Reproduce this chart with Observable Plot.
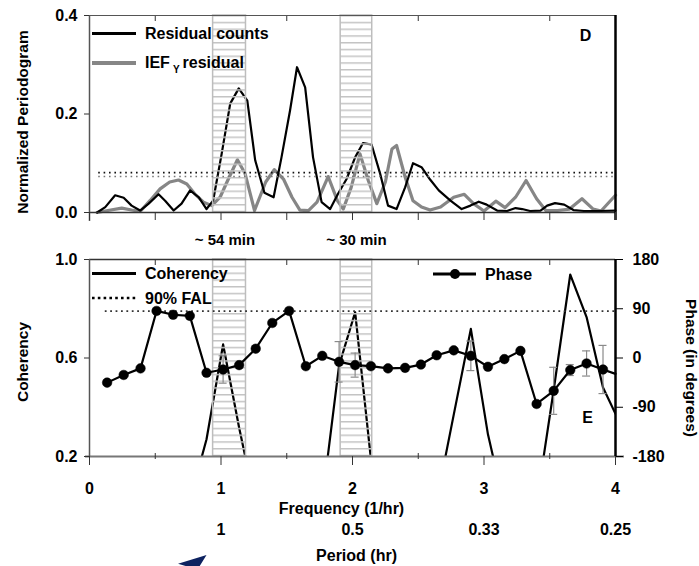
<!DOCTYPE html>
<html><head><meta charset="utf-8">
<script src="https://cdn.jsdelivr.net/npm/d3@7"></script>
<script src="https://cdn.jsdelivr.net/npm/@observablehq/plot@0.6"></script>
<style>
html,body{margin:0;padding:0;background:#fff;}
#wrap{position:relative;width:699px;height:566px;overflow:hidden;}
#wrap svg{display:block;}
</style></head><body><div id="wrap"></div>
<script>
// ---------- DATA ----------
// Panel D: normalized periodogram
const resFreq = [0.058,0.12,0.195,0.26,0.32,0.385,0.45,0.525,0.575,0.64,0.70,0.765,0.83,0.89,0.94,1.005,1.07,1.135,1.20,1.26,1.33,1.40,1.46,1.525,1.578,1.64,1.70,1.765,1.83,1.89,1.955,2.02,2.08,2.145,2.21,2.27,2.335,2.40,2.46,2.525,2.59,2.656,2.745,2.83,2.897,2.96,3.02,3.10,3.175,3.24,3.29,3.35,3.43,3.48,3.54,3.61,3.68,3.76,3.88,4.0];
const resVal  = [0.000,0.011,0.035,0.030,0.014,0.004,0.018,0.037,0.024,0.004,0.018,0.045,0.031,0.007,0.024,0.119,0.221,0.252,0.227,0.106,0.040,0.031,0.112,0.207,0.295,0.254,0.112,0.021,0.007,0.038,0.068,0.112,0.141,0.138,0.079,0.014,0.007,0.051,0.100,0.092,0.067,0.045,0.024,0.007,0.014,0.022,0.016,0.004,0.003,0.009,0.007,0.003,0.004,0.014,0.019,0.016,0.005,0.003,0.003,0.004];
const iefFreq = [0.058,0.14,0.245,0.32,0.385,0.46,0.537,0.61,0.677,0.74,0.80,0.867,0.93,0.993,1.056,1.125,1.183,1.255,1.34,1.405,1.475,1.54,1.60,1.665,1.73,1.815,1.885,1.93,1.99,2.057,2.12,2.185,2.25,2.30,2.335,2.40,2.46,2.525,2.59,2.67,2.77,2.85,2.92,3.0,3.09,3.16,3.24,3.32,3.40,3.47,3.56,3.65,3.745,3.83,3.89,4.0];
const iefVal  = [0.000,0.004,0.009,0.005,0.002,0.024,0.048,0.062,0.066,0.058,0.038,0.021,0.014,0.031,0.068,0.107,0.079,0.004,0.062,0.087,0.068,0.031,0.005,0.004,0.021,0.073,0.024,0.007,0.051,0.119,0.065,0.018,0.062,0.129,0.136,0.072,0.024,0.011,0.005,0.011,0.031,0.037,0.018,0.003,0.023,0.010,0.031,0.065,0.028,0.004,0.004,0.007,0.028,0.007,0.003,0.035];
const falLevels = [0.081, 0.073];      // false-alarm levels (counts, IEF)
const falStart = 0.07, falEnd = 4.0;

// shaded bands (frequency ranges)
const bandLo = [0.94, 1.91];
const bandHi = [1.19, 2.15];
const bandLabels = ["~ 54 min", "~ 30 min"];
const bandLabelFreq = [1.03, 2.03];

// Panel E: coherency and phase
const bottomFreq = [0.134,0.26,0.388,0.51,0.636,0.763,0.89,1.016,1.138,1.264,1.39,1.518,1.645,1.77,1.898,2.02,2.14,2.27,2.40,2.52,2.64,2.77,2.90,3.03,3.155,3.277,3.40,3.53,3.656,3.78,3.905,4.0];
const cohVal   = [0.10,0.08,0.12,0.06,0.10,0.02,0.27,0.655,0.317,0.0,0.08,0.10,0.06,0.02,0.57,0.786,0.19,0.05,0.08,0.06,0.02,0.37,0.718,0.29,0.0,0.07,0.01,0.47,0.939,0.766,0.48,0.373];
const phaseDeg = [-45,-31,-19,86,79,77,-27,-21,-13,17,64,86,-15,4,-7,-13,-15,-19,-18,-12,5,14,4,-16,-2,13,-84,-60,-22,-10,-21,-29];
const phaseErr = [0,0,0,0,0,0,0,25,0,0,0,0,0,0,37,22,0,0,0,0,0,0,27,0,0,0,0,43,10,23,44,0];
const phaseHasDot = bottomFreq.map(f => f < 4);
const cohFal = 0.79, cohFalStart = 0.12;

// ticks
const xHalf = [0,0.5,1,1.5,2,2.5,3,3.5,4];
const xMajor = [0,1,2,3,4];
const xMinor = [0.5,1.5,2.5,3.5];
const topYTicks = [0, 0.2, 0.4];
const cohTicks = [0.2, 0.6, 1.0];
const phaseTicks = [180, 90, 0, -90, -180];
const periodLabels = ["1", "0.5", "0.33", "0.25"];
const periodFreq = [1, 2, 3, 4];

// ---------- HELPERS ----------
const FONT = '"Liberation Sans", Arial, Helvetica, sans-serif';
const W = 699;
const ML = 89, MR = 84;
const FS = 16;
// phase (-180..180) mapped onto coherency axis (0.2..1.0)
const ph2c = p => 0.6 + p * 0.4 / 180;
const c2ph = c => Math.round((c - 0.6) * 450);

const resRows = resFreq.map((f, i) => ({f, v: resVal[i]}));
const iefRows = iefFreq.map((f, i) => ({f, v: iefVal[i]}));
const bandRows = bandLo.map((lo, i) => ({lo, hi: bandHi[i]}));
const falRows = falLevels.map(v => ({v, a: falStart, b: falEnd}));
const bandLabelRows = bandLabels.map((t, i) => ({t, f: bandLabelFreq[i]}));
const botRows = bottomFreq.map((f, i) => ({f, c: cohVal[i], p: phaseDeg[i], e: phaseErr[i], dot: phaseHasDot[i]}));
const errRows = botRows.filter(d => d.e > 0);
const periodRows = periodLabels.map((t, i) => ({t, f: periodFreq[i]}));

const baseStyle = {fontFamily: FONT, fontSize: FS + "px", fontWeight: "bold", background: "transparent", color: "#000", overflow: "visible"};

function addHatch(svg, id, y0) {
  const p = d3.select(svg).insert("defs", ":first-child").append("pattern")
    .attr("id", id).attr("patternUnits", "userSpaceOnUse")
    .attr("x", 0).attr("y", y0).attr("width", 10).attr("height", 6.75);
  p.append("rect").attr("x", 0).attr("y", 0).attr("width", 10).attr("height", 1.5).attr("fill", "#c4c4c4");
}

// arrowhead symbol (like a filled "➤", pointing right before rotation)
const arrowHead = {
  draw(ctx, size) {
    const r = Math.sqrt(size / Math.PI);
    ctx.moveTo(r, 0);
    ctx.lineTo(-r, -0.75 * r);
    ctx.lineTo(-0.45 * r, 0);
    ctx.lineTo(-r, 0.75 * r);
    ctx.closePath();
  }
};

// ---------- TOP PANEL (D) ----------
const topPlot = Plot.plot({
  width: W, height: 250,
  marginLeft: ML, marginRight: MR, marginTop: 15, marginBottom: 38,
  x: {domain: [0, 4], label: null},
  y: {domain: [0, 0.4], label: null},
  style: baseStyle,
  marks: [
    Plot.line(iefRows, {x: "f", y: "v", stroke: "#868686", strokeWidth: 3.2}),
    Plot.line(resRows, {x: "f", y: "v", stroke: "#000", strokeWidth: 2.2}),
    Plot.rect(bandRows, {x1: "lo", x2: "hi", fill: "url(#hatchTop)", stroke: "#bdbdbd", strokeWidth: 1.5}),
    Plot.ruleY(falRows.slice(0, 1), {y: "v", x1: "a", x2: "b", stroke: "#111", strokeWidth: 1.6, strokeDasharray: "1.6,3.8"}),
    Plot.ruleY(falRows.slice(1), {y: "v", x1: "a", x2: "b", stroke: "#777", strokeWidth: 1.6, strokeDasharray: "1.6,3.8"}),
    Plot.ruleY([0], {stroke: "#333", strokeWidth: 1.5}),
    Plot.ruleY([0.4], {stroke: "#555", strokeWidth: 1.2}),
    Plot.ruleX([0], {stroke: "#555", strokeWidth: 1.5, insetBottom: -9}),
    Plot.ruleX([4], {stroke: "#000", strokeWidth: 2.5, insetBottom: -8}),
    Plot.axisX({ticks: xHalf, tickSize: 8, tickFormat: () => "", label: null, stroke: "#333"}),
    Plot.axisX({anchor: "top", ticks: xMinor, tickSize: 5, dy: 5, tickFormat: () => "", label: null, stroke: "#333"}),
    Plot.axisY({ticks: topYTicks, tickSize: 5, tickPadding: 7, tickFormat: d => d.toFixed(1), label: null, stroke: "#333", fontSize: FS}),
    Plot.text(["Normalized Periodogram"], {text: d => d, frameAnchor: "left", dx: -66, dy: 8, rotate: -90, textAnchor: "middle", lineAnchor: "middle", fontSize: 15.5}),
    Plot.text(bandLabelRows, {x: "f", text: "t", frameAnchor: "bottom", dy: 28, textAnchor: "middle", lineAnchor: "middle", fontSize: 15}),
    Plot.text(["D"], {text: d => d, frameAnchor: "top-right", dx: -30, dy: 20, textAnchor: "middle", lineAnchor: "middle", fontSize: 16})
  ]
});
addHatch(topPlot, "hatchTop", 15);
{
  const g = d3.select(topPlot).append("g").attr("font-family", FONT).attr("font-weight", "bold").attr("font-size", 16).attr("text-anchor", "start");
  g.append("line").attr("x1", 92).attr("x2", 136).attr("y1", 33.5).attr("y2", 33.5).attr("stroke", "#000").attr("stroke-width", 3);
  g.append("text").attr("x", 145).attr("y", 33.5).attr("dy", "0.36em").attr("text-anchor", "start").text("Residual counts");
  g.append("line").attr("x1", 92).attr("x2", 136).attr("y1", 63).attr("y2", 63).attr("stroke", "#868686").attr("stroke-width", 4);
  const t = g.append("text").attr("x", 145).attr("y", 62).attr("dy", "0.36em").attr("text-anchor", "start");
  t.append("tspan").text("IEF");
  t.append("tspan").attr("font-size", 10).attr("dx", 3).attr("dy", 5).text("Y");
  t.append("tspan").attr("dx", 3).attr("dy", -5).text("residual");
}

// ---------- BOTTOM PANEL (E) ----------
const botPlot = Plot.plot({
  width: W, height: 316,
  marginLeft: ML, marginRight: MR, marginTop: 9, marginBottom: 110,
  x: {domain: [0, 4], label: null},
  y: {domain: [0.2, 1.0], label: null},
  style: baseStyle,
  marks: [
    Plot.line(botRows, {x: "f", y: "c", stroke: "#000", strokeWidth: 2.2, clip: true}),
    Plot.rect(bandRows, {x1: "lo", x2: "hi", fill: "url(#hatchBot)", stroke: "#bdbdbd", strokeWidth: 1.5}),
    Plot.ruleY([{v: cohFal, a: cohFalStart, b: 4}], {y: "v", x1: "a", x2: "b", stroke: "#333", strokeWidth: 1.8, strokeDasharray: "1.8,3.6"}),
    Plot.ruleX(errRows, {x: "f", y1: d => ph2c(d.p - d.e), y2: d => ph2c(d.p + d.e), stroke: "#8a8a8a", strokeWidth: 1.2}),
    Plot.ruleY(errRows, {y: d => ph2c(d.p + d.e), x1: "f", x2: "f", insetLeft: -4, insetRight: -4, stroke: "#8a8a8a", strokeWidth: 1.2}),
    Plot.ruleY(errRows, {y: d => ph2c(d.p - d.e), x1: "f", x2: "f", insetLeft: -4, insetRight: -4, stroke: "#8a8a8a", strokeWidth: 1.2}),
    Plot.line(botRows, {x: "f", y: d => ph2c(d.p), stroke: "#000", strokeWidth: 2.2}),
    Plot.dot(botRows.filter(d => d.dot), {x: "f", y: d => ph2c(d.p), r: 4.8, fill: "#000", stroke: "#000", strokeWidth: 0.5}),
    Plot.ruleY([1.0], {stroke: "#333", strokeWidth: 1.5}),
    Plot.ruleY([0.2], {stroke: "#777", strokeWidth: 2.2, insetLeft: -4, insetRight: -9}),
    Plot.ruleX([0], {stroke: "#555", strokeWidth: 1.5}),
    Plot.ruleX([4], {stroke: "#000", strokeWidth: 2.5}),
    Plot.axisX({ticks: xMajor, tickSize: 9, tickPadding: 17, tickFormat: d => String(d), label: null, stroke: "#333", fontSize: FS}),
    Plot.axisX({ticks: xMinor, tickSize: 6, dy: -3, tickFormat: () => "", label: null, stroke: "#333"}),
    Plot.axisX({anchor: "top", ticks: xMinor, tickSize: 5, dy: 5, tickFormat: () => "", label: null, stroke: "#333"}),
    Plot.axisY({ticks: cohTicks, tickSize: 5, tickPadding: 7, tickFormat: d => d.toFixed(1), label: null, stroke: "#333", fontSize: FS}),
    Plot.axisY({anchor: "right", ticks: phaseTicks.map(ph2c), tickSize: 7, tickPadding: 10, tickFormat: d => String(c2ph(d)), label: null, stroke: "#000", fontSize: FS}),
    Plot.text(["Coherency"], {text: d => d, frameAnchor: "left", dx: -66, dy: 4, rotate: -90, textAnchor: "middle", lineAnchor: "middle", fontSize: 15.5}),
    Plot.text(["Phase (in degrees)"], {text: d => d, frameAnchor: "right", dx: 75, dy: 10, rotate: 90, textAnchor: "middle", lineAnchor: "middle", fontSize: 15.5}),
    Plot.text(["Frequency (1/hr)"], {text: d => d, frameAnchor: "bottom", dx: -11, dy: 52, textAnchor: "middle", lineAnchor: "middle", fontSize: FS}),
    Plot.text(periodRows, {x: "f", text: "t", frameAnchor: "bottom", dy: 73, textAnchor: "middle", lineAnchor: "middle", fontSize: FS}),
    Plot.text(["Period (hr)"], {text: d => d, frameAnchor: "bottom", dx: 4, dy: 99, textAnchor: "middle", lineAnchor: "middle", fontSize: FS}),
    Plot.text(["E"], {text: d => d, frameAnchor: "top-right", dx: -28, dy: 158, textAnchor: "middle", lineAnchor: "middle", fontSize: 16}),
    Plot.dot([0], {frameAnchor: "bottom-left", dx: 106, dy: 107, symbol: arrowHead, r: 14, rotate: -38, fill: "#0d2260", stroke: "none"})
  ]
});
addHatch(botPlot, "hatchBot", 9);
{
  const g = d3.select(botPlot).append("g").attr("font-family", FONT).attr("font-weight", "bold").attr("font-size", 16).attr("text-anchor", "start");
  g.append("line").attr("x1", 92).attr("x2", 136).attr("y1", 23.5).attr("y2", 23.5).attr("stroke", "#000").attr("stroke-width", 3);
  g.append("text").attr("x", 145).attr("y", 23.5).attr("dy", "0.36em").attr("text-anchor", "start").text("Coherency");
  g.append("line").attr("x1", 92).attr("x2", 136).attr("y1", 48).attr("y2", 48).attr("stroke", "#000").attr("stroke-width", 2.6).attr("stroke-dasharray", "2.6,3.2");
  g.append("text").attr("x", 145).attr("y", 48).attr("dy", "0.36em").attr("text-anchor", "start").text("90% FAL");
  g.append("line").attr("x1", 433).attr("x2", 476).attr("y1", 24).attr("y2", 24).attr("stroke", "#000").attr("stroke-width", 3);
  g.append("circle").attr("cx", 455).attr("cy", 24).attr("r", 5).attr("fill", "#000");
  g.append("text").attr("x", 485).attr("y", 24).attr("dy", "0.36em").attr("text-anchor", "start").text("Phase");
}

const wrap = document.getElementById("wrap");
wrap.appendChild(topPlot);
wrap.appendChild(botPlot);
</script></body></html>
